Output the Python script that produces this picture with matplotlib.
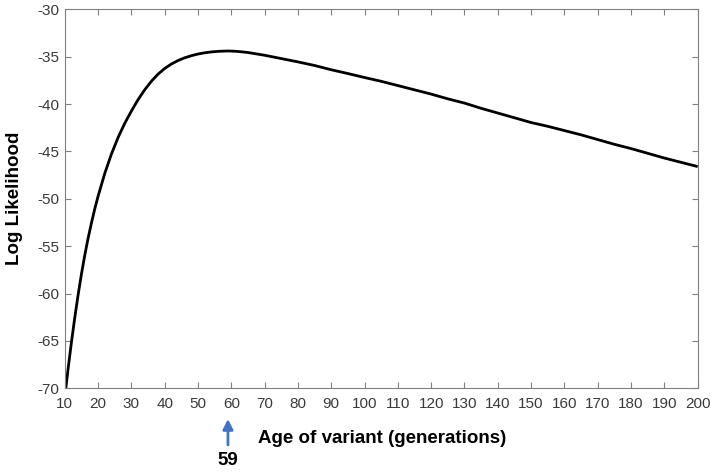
import matplotlib
matplotlib.use("Agg")
import matplotlib.pyplot as plt

plt.rcParams['font.family'] = ['Liberation Sans', 'DejaVu Sans']
plt.rcParams['axes.unicode_minus'] = False

age = [10, 11, 12, 13, 14, 15, 16, 17, 18, 19, 20, 22, 24, 26, 28, 30, 32, 34, 36, 38,
       40, 42, 44, 46, 48, 50, 52, 54, 56, 58, 59, 60, 62, 65, 70, 75, 80, 85, 90, 95,
       100, 105, 110, 115, 120, 125, 130, 135, 140, 145, 150, 155, 160, 165, 170, 175,
       180, 185, 190, 195, 200]
loglik = [-71.0, -68.0, -65.2, -62.6, -60.2, -58.0, -56.0, -54.2, -52.6, -51.1, -49.75,
          -47.35, -45.3, -43.55, -42.05, -40.75, -39.55, -38.5, -37.6, -36.85,
          -36.25, -35.78, -35.41, -35.12, -34.9, -34.72, -34.59, -34.5, -34.44, -34.41,
          -34.4, -34.41, -34.45, -34.56, -34.85, -35.2, -35.55, -35.93, -36.38, -36.78,
          -37.2, -37.6, -38.05, -38.5, -38.95, -39.45, -39.9, -40.45, -40.95, -41.45,
          -41.95, -42.35, -42.8, -43.25, -43.75, -44.25, -44.7, -45.2, -45.7, -46.15, -46.6]

x_ticks = list(range(10, 201, 10))
y_ticks = list(range(-70, -29, 5))
peak_age = 59

W, H = 713, 473
fig = plt.figure(figsize=(W / 100, H / 100), dpi=100)
ax = fig.add_axes([64.7 / W, (H - 388.3) / H, (697.7 - 64.7) / W, (388.3 - 9.3) / H])

ax.plot(age, loglik, color='black', lw=2.0, solid_capstyle='butt', solid_joinstyle='round')

ax.set_xlim(10, 200)
ax.set_ylim(-70, -30)
ax.set_xticks(x_ticks)
ax.set_yticks(y_ticks)

grey = '#808080'
for s in ax.spines.values():
    s.set_color(grey)
    s.set_linewidth(0.8)
ax.tick_params(direction='in', length=4, width=0.8, color=grey, labelcolor='#3a3a3a',
               labelsize=11, top=True, right=True)
ax.tick_params(axis='x', pad=6)
ax.tick_params(axis='y', pad=4)

fig.text(15 / W, (H - 198) / H, 'Log Likelihood', rotation=90, fontsize=13.5,
         fontweight='bold', ha='center', va='center')
fig.text(382 / W, (H - 438) / H, 'Age of variant (generations)', fontsize=13.5,
         fontweight='bold', ha='center', va='center')

ax.annotate('', xy=(peak_age, H - 419), xycoords=('data', 'figure pixels'),
            xytext=(peak_age, H - 445), textcoords=('data', 'figure pixels'),
            arrowprops=dict(arrowstyle='-|>,head_length=0.6,head_width=0.3',
                            color='#4472C4', lw=2, shrinkA=0, shrinkB=0),
            annotation_clip=False)
ax.annotate(str(peak_age), xy=(peak_age, H - 460), xycoords=('data', 'figure pixels'),
            ha='center', va='center', fontsize=13.5, fontweight='bold',
            annotation_clip=False)

fig.savefig('out.png', dpi=100)
